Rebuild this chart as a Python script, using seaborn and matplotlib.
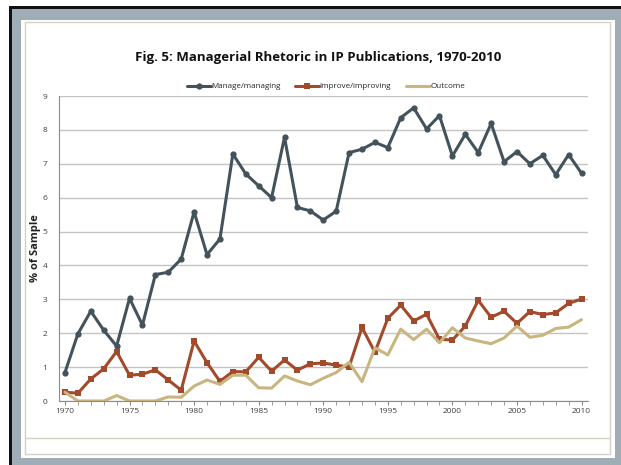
import numpy as np
import pandas as pd
import seaborn as sns
import matplotlib.pyplot as plt
from matplotlib.patches import Rectangle
from matplotlib.lines import Line2D

# data
years = list(range(1970, 2011))
manage = [0.84, 1.98, 2.65, 2.09, 1.62, 3.03, 2.24, 3.73, 3.80, 4.19,
          5.58, 4.32, 4.78, 7.29, 6.70, 6.35, 6.00, 7.78, 5.71, 5.61,
          5.34, 5.60, 7.33, 7.43, 7.63, 7.48, 8.36, 8.65, 8.03, 8.42,
          7.23, 7.87, 7.33, 8.19, 7.06, 7.36, 7.00, 7.25, 6.68, 7.27, 6.72]
improve = [0.26, 0.23, 0.65, 0.95, 1.46, 0.76, 0.79, 0.92, 0.62, 0.32,
           1.77, 1.13, 0.58, 0.87, 0.86, 1.29, 0.88, 1.21, 0.91, 1.10,
           1.12, 1.06, 1.00, 2.17, 1.44, 2.44, 2.83, 2.36, 2.56, 1.82,
           1.80, 2.21, 2.97, 2.47, 2.65, 2.29, 2.64, 2.55, 2.60, 2.88, 3.01]
outcome = [0.26, 0.00, 0.00, 0.00, 0.16, 0.00, 0.00, 0.00, 0.12, 0.11,
           0.44, 0.62, 0.49, 0.76, 0.76, 0.39, 0.38, 0.74, 0.59, 0.48,
           0.67, 0.84, 1.14, 0.57, 1.57, 1.36, 2.12, 1.81, 2.12, 1.72,
           2.16, 1.86, 1.77, 1.69, 1.86, 2.21, 1.88, 1.94, 2.14, 2.18, 2.40]
series_names = ["Manage/managing", "Improve/improving", "Outcome"]
x_ticks = [1970, 1975, 1980, 1985, 1990, 1995, 2000, 2005, 2010]

df = pd.DataFrame({"year": years, series_names[0]: manage,
                   series_names[1]: improve, series_names[2]: outcome})

sns.set_style("white")
plt.rcParams['font.family'] = ['Open Sans', 'DejaVu Sans']

W, H = 621, 465
fig = plt.figure(figsize=(W / 100, H / 100), dpi=100)
fig.patch.set_facecolor("white")


def px_rect(x, y, w, h, **kw):
    return Rectangle((x / W, 1 - (y + h) / H), w / W, h / H,
                     transform=fig.transFigure, **kw)


# slide-style frame around the chart
fig.patches.append(px_rect(9, 6, 612, 459, facecolor="#111111", edgecolor="none", zorder=-5))
fig.patches.append(px_rect(12, 9, 609, 456, facecolor="#9eadb6", edgecolor="none", zorder=-4))
fig.patches.append(px_rect(21, 20, 594, 438, facecolor="white", edgecolor="none", zorder=-3))
fig.patches.append(px_rect(25, 22, 585, 432, facecolor="none", edgecolor="#d3d1c8", lw=1, zorder=-2))
fig.lines.append(Line2D([25 / W, 610 / W], [1 - 438 / H, 1 - 438 / H],
                        transform=fig.transFigure, color="#d3d1c8", lw=1))

ax = fig.add_axes([58.5 / W, 1 - 401 / H, (588 - 58.5) / W, (401 - 96) / H])
ax.set_facecolor("none")

colors = ["#44535b", "#a24a2c", "#c9b57f"]
markers = ["o", "s", None]
for name, c, m in zip(series_names, colors, markers):
    sns.lineplot(data=df, x="year", y=name, ax=ax, color=c, lw=2.2,
                 marker=m, markersize=4.5, markeredgewidth=0, label=name)

ax.set_xlim(1969.5, 2010.5)
ax.set_ylim(0, 9)
ax.set_yticks(range(0, 10))
ax.set_xticks(x_ticks)
ax.set_xticks(years, minor=True)
ax.grid(axis="y", color="#c4c4c4", lw=1)
ax.set_axisbelow(True)
for s in ["top", "right"]:
    ax.spines[s].set_visible(False)
ax.spines["left"].set_color("#8c8c8c")
ax.spines["bottom"].set_color("#8c8c8c")
ax.tick_params(axis="x", which="both", direction="out", length=3, color="#8c8c8c",
               labelsize=6, labelcolor="#404040", pad=2, bottom=True)
ax.tick_params(axis="y", length=0, labelsize=6, labelcolor="#404040", pad=8)
ax.set_xlabel("")
ax.set_ylabel("% of Sample", fontsize=8, fontweight="bold", color="#222222", labelpad=1)

ax.legend(loc="lower center", bbox_to_anchor=(0.505, 1.0), ncol=3, frameon=False,
          fontsize=5.8, handlelength=3, columnspacing=1.8, handletextpad=0.05,
          borderaxespad=0.3)
fig.text(318 / W, 1 - 58 / H, "Fig. 5: Managerial Rhetoric in IP Publications, 1970-2010",
         ha="center", va="center", fontsize=9.5, fontweight="bold", color="#111111")

fig.savefig("out.png", dpi=100)
